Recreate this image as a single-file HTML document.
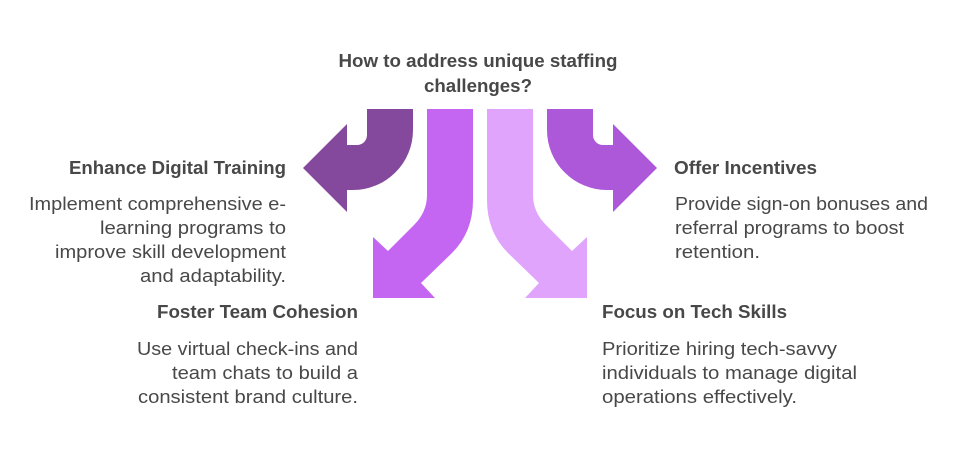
<!DOCTYPE html>
<html><head><meta charset="utf-8"><style>
html,body{margin:0;padding:0;background:#fff;}
svg{display:block;}
text{font-family:"Liberation Sans",sans-serif;fill:#484848;}
.h{font-weight:bold;font-size:18px;}
.b{font-size:18px;}
</style></head><body>
<svg width="972" height="456" viewBox="0 0 972 456">
<text class="h" x="478" y="67" text-anchor="middle" font-size="17" textLength="279" lengthAdjust="spacingAndGlyphs">How to address unique staffing</text>
<text class="h" x="478" y="92" text-anchor="middle" font-size="17" textLength="108" lengthAdjust="spacingAndGlyphs">challenges?</text>

<path fill="#84499c" d="M367,109 L413,109 L413,130 A60,60 0 0 1 353,190 L347,190 L347,212 L303,168 L347,124 L347,145 L357,145 A10,10 0 0 0 367,135 Z"/>
<path fill="#ad58d8" d="M593,109 L547,109 L547,130 A60,60 0 0 0 607,190 L613,190 L613,212 L657,168 L613,124 L613,145 L603,145 A10,10 0 0 1 593,135 Z"/>
<path fill="#c466f2" d="M427,109 L473,109 L473,200 Q473,232 452,253 L421,283 L435,298 L373,298 L373,237 L388,251 L414,225 Q427,212 427,195 Z"/>
<path fill="#e0a4fc" d="M533,109 L487,109 L487,200 Q487,232 508,253 L539,283 L525,298 L587,298 L587,237 L572,251 L546,225 Q533,212 533,195 Z"/>

<text class="h" x="286" y="174" text-anchor="end" textLength="217" lengthAdjust="spacingAndGlyphs">Enhance Digital Training</text>
<text class="b" x="286" y="210" text-anchor="end" textLength="257" lengthAdjust="spacingAndGlyphs">Implement comprehensive e-</text>
<text class="b" x="286" y="234" text-anchor="end" textLength="186" lengthAdjust="spacingAndGlyphs">learning programs to</text>
<text class="b" x="286" y="258" text-anchor="end" textLength="231" lengthAdjust="spacingAndGlyphs">improve skill development</text>
<text class="b" x="286" y="282" text-anchor="end" textLength="146" lengthAdjust="spacingAndGlyphs">and adaptability.</text>

<text class="h" x="358" y="318" text-anchor="end" textLength="201" lengthAdjust="spacingAndGlyphs">Foster Team Cohesion</text>
<text class="b" x="358" y="355" text-anchor="end" textLength="221" lengthAdjust="spacingAndGlyphs">Use virtual check-ins and</text>
<text class="b" x="358" y="379" text-anchor="end" textLength="186" lengthAdjust="spacingAndGlyphs">team chats to build a</text>
<text class="b" x="358" y="403" text-anchor="end" textLength="220" lengthAdjust="spacingAndGlyphs">consistent brand culture.</text>

<text class="h" x="674" y="174" textLength="143" lengthAdjust="spacingAndGlyphs">Offer Incentives</text>
<text class="b" x="675" y="210" textLength="253" lengthAdjust="spacingAndGlyphs">Provide sign-on bonuses and</text>
<text class="b" x="675" y="234" textLength="229" lengthAdjust="spacingAndGlyphs">referral programs to boost</text>
<text class="b" x="675" y="258" textLength="85" lengthAdjust="spacingAndGlyphs">retention.</text>

<text class="h" x="602" y="318" textLength="185" lengthAdjust="spacingAndGlyphs">Focus on Tech Skills</text>
<text class="b" x="602" y="355" textLength="235" lengthAdjust="spacingAndGlyphs">Prioritize hiring tech-savvy</text>
<text class="b" x="602" y="379" textLength="255" lengthAdjust="spacingAndGlyphs">individuals to manage digital</text>
<text class="b" x="602" y="403" textLength="195" lengthAdjust="spacingAndGlyphs">operations effectively.</text>
</svg>
</body></html>
